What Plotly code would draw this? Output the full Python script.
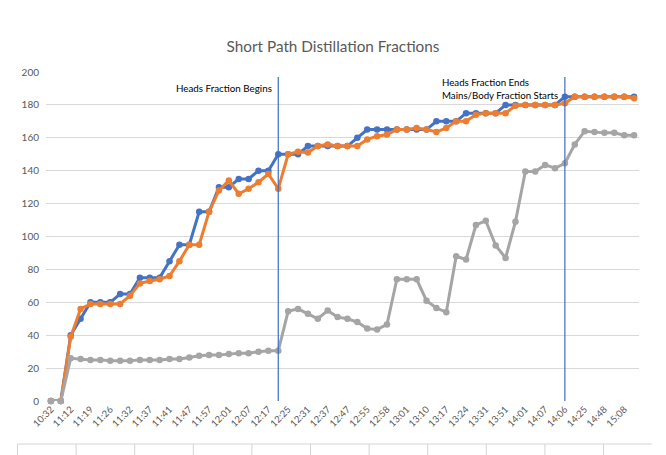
import plotly.graph_objects as go

# ---------------- data ----------------
tick_labels = ["10:32", "11:12", "11:19", "11:26", "11:32", "11:37", "11:41", "11:47",
               "11:57", "12:01", "12:07", "12:17", "12:25", "12:31", "12:37", "12:47",
               "12:55", "12:58", "13:01", "13:10", "13:17", "13:24", "13:31", "13:51",
               "14:01", "14:07", "14:06", "14:25", "14:48", "15:08"]

series_blue = [0, 0, 40, 50, 60, 60, 60, 65, 65, 75, 75, 75, 85, 95, 95, 115, 115, 130, 130, 135,
               135, 140, 140, 150, 150, 150, 155, 155, 155, 155, 155, 160, 165, 165, 165, 165, 165, 165, 165, 170,
               170, 170, 175, 175, 175, 175, 180, 180, 180, 180, 180, 180, 185, 185, 185, 185, 185, 185, 185, 185]

series_orange = [0, 0, 39, 56, 59, 59, 59, 59, 64, 71.5, 73, 74, 76, 85, 95, 95, 115, 128, 134, 126,
                 129, 133, 138, 129, 150, 151.5, 151, 155, 156, 155, 155, 155, 159, 161, 162, 165, 165, 166, 165, 163.5,
                 166, 170, 170, 174, 175, 175, 175, 179.5, 180, 180, 180, 180, 181, 185, 185, 185, 185, 185, 185, 184]

series_gray = [0, 0, 26, 25.5, 25, 25, 24.5, 24.5, 24.5, 25, 25, 25, 25.5, 25.5, 26.5, 27.5, 28, 28, 28.5, 29,
               29, 30, 30.5, 30.5, 54.5, 56, 53, 50, 55, 51, 50, 48, 44, 43.5, 46.5, 74, 74, 74, 61, 56.5,
               54, 88, 86, 107, 109.5, 94.5, 87, 109, 139.5, 139.5, 143.5, 141.5, 144.5, 156, 164, 163.5, 163, 163, 161.5, 161.5]

marker_lines = [23, 52]          # category positions of the two vertical markers
marker_top = 197
y_ticks = list(range(0, 201, 20))

# ---------------- figure ----------------
W, H = 666, 455
ML, MR, MT, MB = 46, 27, 72, 54
PW, PH = W - ML - MR, H - MT - MB

def px(xp):
    return (xp - ML) / PW

def py(yp):
    return (H - MB - yp) / PH

n = len(series_blue)
xs = list(range(n))
tick_pos = xs[::2]

FONT = "Lato"
fig = go.Figure()

traces = [(series_blue, "#4472C4"), (series_orange, "#ED7D31"), (series_gray, "#A5A5A5")]
for vals, col in traces:
    fig.add_trace(go.Scatter(
        x=xs, y=vals, mode="lines+markers",
        line=dict(color=col, width=3),
        marker=dict(color=col, size=6.5),
        cliponaxis=False, showlegend=False, hoverinfo="skip"))

shapes = []
for xv in marker_lines:
    shapes.append(dict(type="line", xref="x", yref="y", x0=xv, x1=xv, y0=-1, y1=marker_top,
                       line=dict(color="#3A6BC8", width=1.2), layer="above"))

# spreadsheet cell borders visible beneath the chart
grid_col = "#D4D4D4"
shapes.append(dict(type="line", xref="paper", yref="paper", x0=px(17.5), x1=px(652), y0=py(444), y1=py(444),
                   line=dict(color=grid_col, width=1)))
for i in range(11):
    xv = 17.5 + i * 58.6
    shapes.append(dict(type="line", xref="paper", yref="paper", x0=px(xv), x1=px(xv), y0=py(444), y1=py(456),
                       line=dict(color=grid_col, width=1)))

annotations = [
    dict(x=22.6, y=190, xref="x", yref="y", text="Heads Fraction Begins", showarrow=False,
         xanchor="right", yanchor="middle", font=dict(family=FONT, size=9.8, color="#000000")),
    dict(x=px(440), y=py(74), xref="paper", yref="paper",
         text="Heads Fraction Ends<br>Mains/Body Fraction Starts", showarrow=False, align="left",
         xanchor="left", yanchor="top", font=dict(family=FONT, size=9.7, color="#000000")),
]

fig.update_layout(
    width=W, height=H,
    margin=dict(l=ML, r=MR, t=MT, b=MB),
    paper_bgcolor="white", plot_bgcolor="white",
    title=dict(text="Short Path Distillation Fractions", x=0.5, xanchor="center",
               y=1 - 47 / H, yanchor="middle",
               font=dict(family=FONT, size=15.3, color="#595959")),
    xaxis=dict(range=[-0.5, n - 0.5], tickmode="array", tickvals=tick_pos, ticktext=tick_labels,
               tickangle=-45, showgrid=False, zeroline=False, showline=False,
               ticks="", tickfont=dict(family=FONT, size=9.5, color="#595959"), fixedrange=True),
    yaxis=dict(range=[0, 200], tickmode="array", tickvals=y_ticks, showgrid=True, gridcolor="#D9D9D9",
               gridwidth=1, zeroline=False, showline=False, ticks="", ticklabelstandoff=6,
               tickfont=dict(family=FONT, size=10, color="#595959"), fixedrange=True),
    shapes=shapes, annotations=annotations,
)

fig.write_html("out.html", config={"displayModeBar": False, "staticPlot": True},
               post_script="document.body.style.margin='0';document.body.style.overflow='hidden';")
